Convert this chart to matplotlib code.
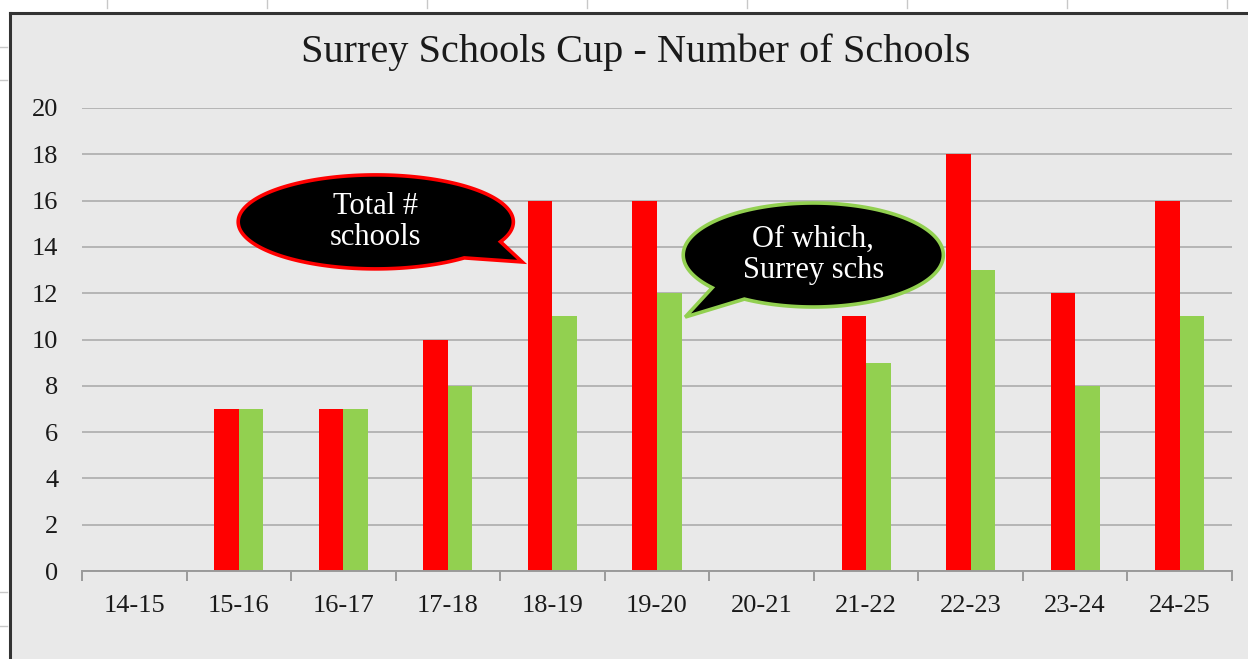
import numpy as np
import matplotlib.pyplot as plt
from matplotlib.patches import Polygon, Rectangle
from matplotlib.lines import Line2D

seasons = ['14-15', '15-16', '16-17', '17-18', '18-19', '19-20',
           '20-21', '21-22', '22-23', '23-24', '24-25']
total_schools = [0, 7, 7, 10, 16, 16, 0, 11, 18, 12, 16]
surrey_schools = [0, 7, 7, 8, 11, 12, 0, 9, 13, 8, 11]

RED = '#ff0000'
GREEN = '#92d050'
FONT = 'Liberation Serif'

W, H = 1248, 659
fig = plt.figure(figsize=(W / 100, H / 100), dpi=100)
fig.patch.set_facecolor('white')

# the sheet area behind the chart, with its dark frame on the left and top
fig.add_artist(Rectangle((10 / W, 0), 1 - 10 / W, 1 - 13 / H, transform=fig.transFigure,
                         facecolor='#e9e9e9', edgecolor='none', zorder=0))
fig.add_artist(Line2D([10 / W, 10 / W], [0, 1 - 13 / H], transform=fig.transFigure,
                      color='#333333', lw=2.2))
fig.add_artist(Line2D([10 / W, 1], [1 - 13 / H, 1 - 13 / H], transform=fig.transFigure,
                      color='#333333', lw=2.2))
# little ruler marks in the white margins
for px in range(107, W, 160):
    fig.add_artist(Line2D([px / W, px / W], [1 - 8 / H, 1], transform=fig.transFigure,
                          color='#c8c8c8', lw=1))
for py in [47, 80, 592, 626]:
    fig.add_artist(Line2D([0, 7 / W], [1 - py / H, 1 - py / H], transform=fig.transFigure,
                          color='#c8c8c8', lw=1))

ax = fig.add_axes([82 / W, 88 / H, 1150 / W, 463 / H])
ax.set_facecolor('none')

x = np.arange(len(seasons))
w = 0.235
ax.bar(x - w / 2, total_schools, w, color=RED, zorder=3)
ax.bar(x + w / 2, surrey_schools, w, color=GREEN, zorder=3)

ax.set_xlim(-0.5, len(seasons) - 0.5)
ax.set_ylim(0, 20)
ax.set_yticks(range(0, 21, 2))
ax.set_xticks(x)
ax.set_xticklabels(seasons, fontfamily=FONT, fontsize=19)
ax.set_xticks(np.arange(-0.5, len(seasons), 1), minor=True)
for lab in ax.get_yticklabels():
    lab.set_fontfamily(FONT)
    lab.set_fontsize(19)

ax.grid(axis='y', color='#b5b5b5', lw=1.4, zorder=1)
for s in ['left', 'right', 'top']:
    ax.spines[s].set_visible(False)
ax.spines['bottom'].set_color('#9a9a9a')
ax.spines['bottom'].set_linewidth(1.4)
ax.spines['bottom'].set_zorder(4)
ax.tick_params(axis='y', length=0, pad=17, colors='#1a1a1a')
ax.tick_params(axis='x', which='major', length=0, pad=17, colors='#1a1a1a')
ax.tick_params(axis='x', which='minor', length=7, width=1.4, color='#9a9a9a')

fig.text(0.509, 1 - 52 / H, 'Surrey Schools Cup - Number of Schools', fontfamily=FONT,
         fontsize=29, ha='center', va='center', color='#1a1a1a')


def callout(ax, cx, cy, rx, ry, a_lo, a_hi, tip, edge, text):
    t = np.radians(np.linspace(a_hi, a_lo + 360, 200))
    pts = np.column_stack([cx + rx * np.cos(t), cy + ry * np.sin(t)])
    pts = np.vstack([pts, tip])
    ax.add_patch(Polygon(pts, closed=True, facecolor='black', edgecolor=edge,
                         lw=2.6, zorder=6, clip_on=False))
    ax.text(cx, cy, text, color='white', fontfamily=FONT, fontsize=22,
            ha='center', va='center', linespacing=1.1, zorder=7)


callout(ax, 2.31, 15.08, 1.316, 2.03, -50, -25, (3.71, 13.35), RED, 'Total #\nschools')
callout(ax, 6.495, 13.65, 1.244, 2.246, -141, -122, (5.27, 10.97), GREEN,
        'Of which,\nSurrey schs')

fig.savefig('out.png', dpi=100)
